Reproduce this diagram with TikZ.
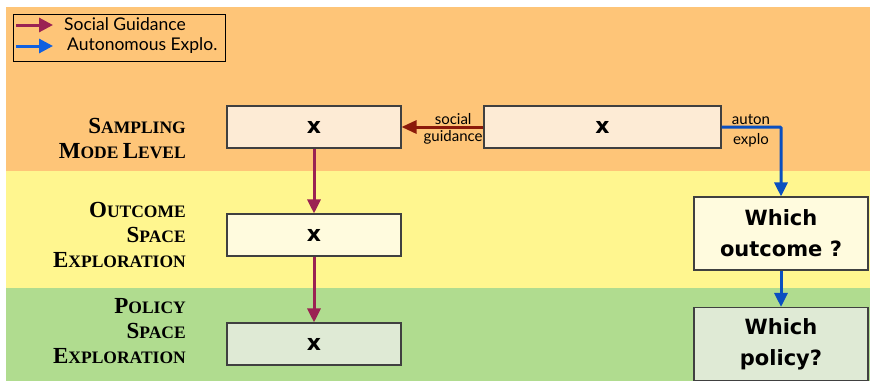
\documentclass[tikz,border=0pt]{standalone}
\usepackage{fontspec}
\setmainfont{Lato}
\newfontfamily\lvlfont{Liberation Serif}
\newfontfamily\boxfont{DejaVu Sans}
\usetikzlibrary{arrows.meta}
\usetikzlibrary{positioning}

\definecolor{bandorange}{RGB}{254,197,120}
\definecolor{bandyellow}{RGB}{255,246,143}
\definecolor{bandgreen}{RGB}{176,220,143}
\definecolor{fillorange}{RGB}{253,235,213}
\definecolor{fillyellow}{RGB}{255,251,222}
\definecolor{fillgreen}{RGB}{223,234,213}
\definecolor{socialcol}{RGB}{155,34,83}
\definecolor{guidecol}{RGB}{139,26,10}
\definecolor{autoncol}{RGB}{10,79,192}
\definecolor{legblue}{RGB}{16,96,224}

% fake small caps: big first letter, smaller rest
\newcommand{\smc}[2]{{\fontsize{23}{25}\selectfont #1}{\fontsize{17.5}{25}\selectfont #2}}

\begin{document}
\begin{tikzpicture}[x=1pt,y=-1pt, >=Stealth,
  xbox/.style={draw=black!75, line width=1.1pt, minimum width=174pt, minimum height=42pt,
    inner sep=0pt, font=\boxfont\bfseries\fontsize{22}{26}\selectfont},
  whichbox/.style={draw=black!75, line width=1.1pt, minimum width=174pt, minimum height=73pt,
    inner sep=0pt, align=center, font=\boxfont\bfseries\fontsize{21}{31}\selectfont},
  lvl/.style={anchor=east, align=right, inner sep=0pt, font=\lvlfont\bfseries\fontsize{17.5}{25}\selectfont},
  socl/.style={draw=socialcol, line width=3pt, -{Triangle[length=14pt,width=13pt]}},
  guide/.style={draw=guidecol, line width=3pt, -{Triangle[length=15pt,width=13pt]}},
  auton/.style={draw=autoncol, line width=3pt, -{Triangle[length=14pt,width=13pt]}},
  small/.style={font=\fontsize{15}{17}\selectfont, inner sep=1pt},
  legtxt/.style={anchor=west, inner sep=0pt, font=\fontsize{17.5}{19}\selectfont}]

    % Fundo: tres faixas
    \useasboundingbox (0,0) rectangle (870,383);
    \fill[bandorange] (6,7) rectangle (870,171);
    \fill[bandyellow] (6,171) rectangle (870,288);
    \fill[bandgreen] (6,288) rectangle (870,381);

    % Legenda
    \draw[black, line width=0.8pt] (13,14) rectangle (225,61);
    \coordinate (lgSa) at (16,25);
    \coordinate (lgSb) at (53,25);
    \coordinate (lgAa) at (16,46);
    \coordinate (lgAb) at (53,46);
    \draw[socialcol, line width=3pt, -{Triangle[length=14pt,width=14pt]}] (lgSa) -- (lgSb);
    \draw[legblue, line width=3pt, -{Triangle[length=14pt,width=14pt]}] (lgAa) -- (lgAb);
    \node (lgS) [legtxt] at (64,24) {Social Guidance};
    \node (lgA) [legtxt] at (67,46) {Autonomous Explo.};

    % Rotulos dos niveis
    \node (lvSmp) [lvl] at (186,139) {\smc{S}{AMPLING}\\ \smc{M}{ODE} \smc{L}{EVEL}};
    \node (lvOut) [lvl] at (186,235) {\smc{O}{UTCOME}\\ \smc{S}{PACE}\\ \smc{E}{XPLORATION}};
    \node (lvPol) [lvl] at (186,331) {\smc{P}{OLICY}\\ \smc{S}{PACE}\\ \smc{E}{XPLORATION}};

    % Caixas
    \node (smpL) [xbox, fill=fillorange] at (314,127) {x};
    \node (smpR) [xbox, fill=fillorange, minimum width=237pt] at (602.5,127) {x};
    \node (outX) [xbox, fill=fillyellow] at (314,235) {x};
    \node (polX) [xbox, fill=fillgreen] at (314,344) {x};
    \node (whOut) [whichbox, fill=fillyellow] at (781,233.5) {Which\\ outcome ?};
    \node (whPol) [whichbox, fill=fillgreen] at (781,344) {Which\\ policy?};

    % Setas
    \draw[guide] (smpR) -- (smpL)
        node[pos=0.37, above, small, inner sep=0.5pt] {social}
        node[pos=0.37, below, small, inner sep=2pt] {guidance};
    \draw[auton, rounded corners=1pt] (smpR.east) -| (whOut.north);
    \node (auLbl) [small, align=center, font=\fontsize{15}{20}\selectfont] at (751,131) {auton\\ explo};
    \draw[socl] (smpL) -- (outX);
    \draw[socl] (outX) -- (polX);
    \draw[auton] (whOut) -- (whPol);

\end{tikzpicture}
\end{document}
